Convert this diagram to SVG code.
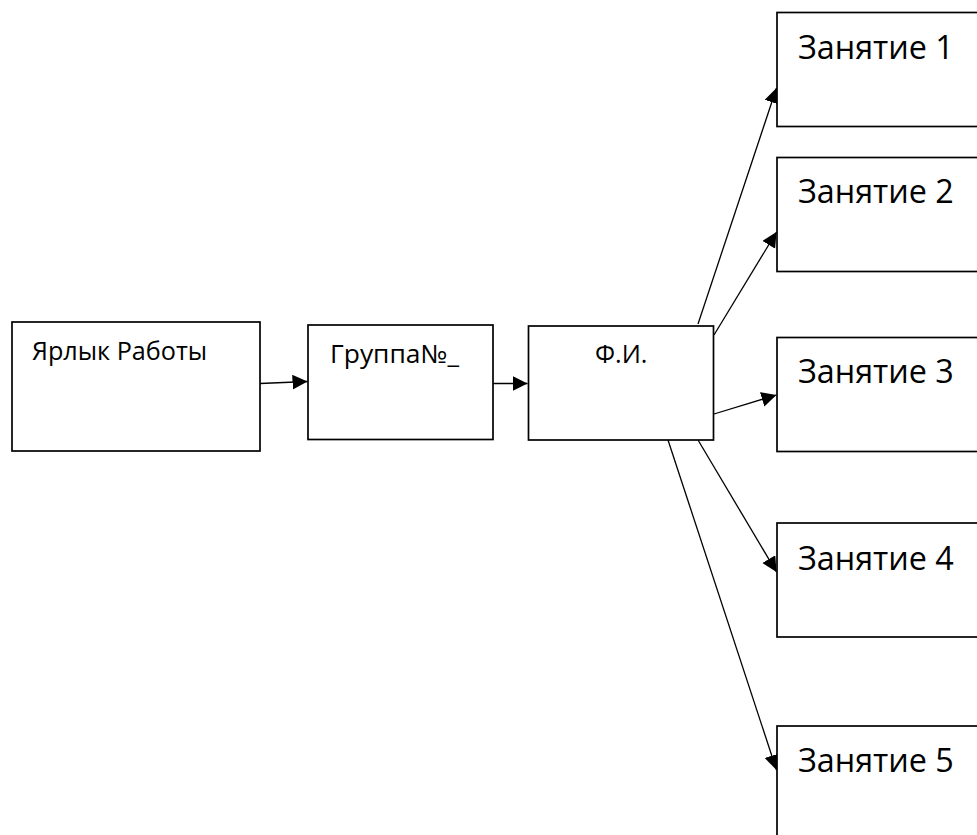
<svg xmlns="http://www.w3.org/2000/svg" width="977" height="835" viewBox="0 0 977 835">
<style>
.box{fill:#fff;stroke:#000;stroke-width:1.7}
.t{font-family:"Open Sans","Noto Sans","DejaVu Sans",sans-serif;fill:#000}
.s{font-size:25.2px}
.l{font-size:32.3px}
.c{stroke:#000;stroke-width:1.3;fill:none;marker-end:url(#ah)}
</style>
<defs>
<marker id="ah" markerUnits="userSpaceOnUse" markerWidth="16" markerHeight="16" refX="15" refY="7.5" orient="auto">
<path d="M0,0 L15,7.5 L0,15 Z" fill="#000"/>
</marker>
</defs>
<rect width="977" height="835" fill="#fff"/>
<g id="connectors">
<line class="c" x1="260" y1="383.5" x2="307.5" y2="381.5"/>
<line class="c" x1="493" y1="383.5" x2="527.5" y2="383.5"/>
<line class="c" x1="698" y1="324" x2="776.5" y2="88"/>
<line class="c" x1="714" y1="335" x2="776.5" y2="232"/>
<line class="c" x1="714" y1="414" x2="776.5" y2="395"/>
<line class="c" x1="698" y1="440" x2="776.5" y2="572"/>
<line class="c" x1="668" y1="440" x2="776.5" y2="770"/>
</g>
<g id="n-yarlyk">
<rect class="box" x="12" y="322" width="248" height="129"/>
<text class="t s" x="32" y="360">Ярлык Работы</text>
</g>
<g id="n-gruppa">
<rect class="box" x="308" y="325" width="185" height="114.5"/>
<text class="t s" x="330" y="363" textLength="129" lengthAdjust="spacingAndGlyphs">Группа№_</text>
</g>
<g id="n-fio">
<rect class="box" x="528.5" y="326" width="185" height="114"/>
<text class="t s" x="595" y="363">Ф.И.</text>
</g>
<g id="n-z1">
<rect class="box" x="777" y="12.5" width="220" height="114"/>
<text class="t l" x="798" y="59">Занятие 1</text>
</g>
<g id="n-z2">
<rect class="box" x="777" y="157.5" width="220" height="114"/>
<text class="t l" x="798" y="203">Занятие 2</text>
</g>
<g id="n-z3">
<rect class="box" x="777" y="337.5" width="220" height="114"/>
<text class="t l" x="798" y="383">Занятие 3</text>
</g>
<g id="n-z4">
<rect class="box" x="777" y="523" width="220" height="114"/>
<text class="t l" x="798" y="570">Занятие 4</text>
</g>
<g id="n-z5">
<rect class="box" x="777" y="726" width="220" height="130"/>
<text class="t l" x="798" y="772">Занятие 5</text>
</g>
</svg>
